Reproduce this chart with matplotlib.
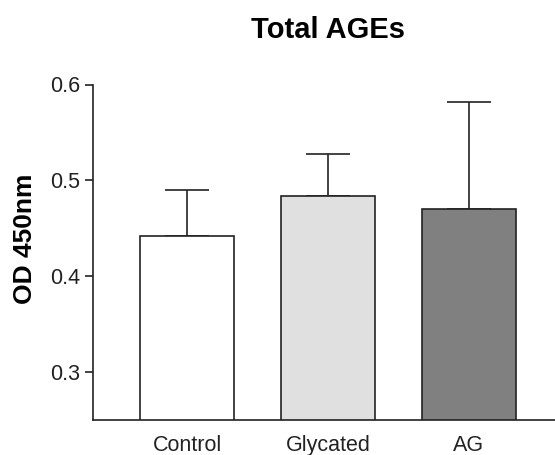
import matplotlib.pyplot as plt

plt.rcParams['font.family'] = ['Liberation Sans', 'DejaVu Sans']

# Data
groups = ['Control', 'Glycated', 'AG']
means = [0.442, 0.484, 0.470]
errors = [0.048, 0.044, 0.112]
colors = ['white', '#e0e0e0', '#808080']

fig = plt.figure(figsize=(5.55, 4.55), dpi=100)
ax = fig.add_axes([93 / 555, 35 / 455, 1 - 93 / 555, (420 - 84.5) / 455])

x = range(len(groups))
ax.bar(x, means, width=0.667, color=colors, edgecolor='#222222', linewidth=1.2, zorder=2)
ax.errorbar(x, means, yerr=[[0] * len(errors), errors], fmt='none', ecolor='#222222',
            elinewidth=1.2, capsize=16, capthick=1.2, zorder=1)

ax.set_ylim(0.25, 0.6)
ax.set_xlim(-0.667, 2.61)
ax.set_yticks([0.3, 0.4, 0.5, 0.6])
ax.set_yticklabels(['0.3', '0.4', '0.5', '0.6'])
ax.set_xticks(list(x))
ax.set_xticklabels(groups)
ax.tick_params(axis='y', length=6, width=1.2, labelsize=15.5, colors='#222222', pad=3)
ax.tick_params(axis='x', length=0, labelsize=15.5, colors='#222222', pad=11)

for s in ['top', 'right']:
    ax.spines[s].set_visible(False)
for s in ['left', 'bottom']:
    ax.spines[s].set_linewidth(1.2)
    ax.spines[s].set_color('#222222')

ax.set_ylabel('OD 450nm', fontsize=19, fontweight='bold')
ax.yaxis.set_label_coords(-0.121, 0.54)
fig.text(328 / 555, 1 - 30 / 455, 'Total AGEs', fontsize=21, fontweight='bold',
         ha='center', va='center')

fig.savefig('out.png', dpi=100)
